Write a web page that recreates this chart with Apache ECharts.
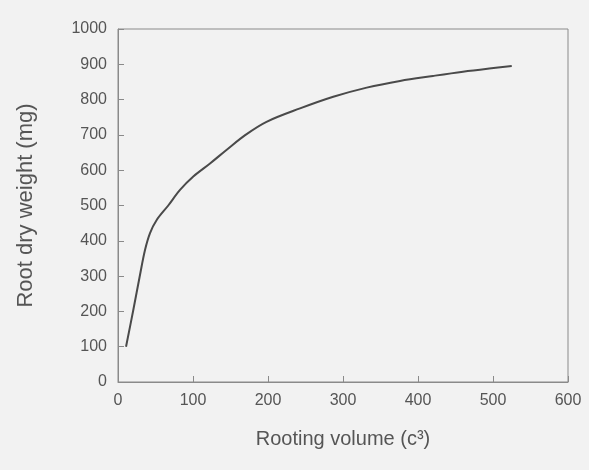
<!DOCTYPE html>
<html>
<head>
<meta charset="utf-8">
<script src="https://cdn.jsdelivr.net/npm/echarts@6/dist/echarts.min.js"></script>
<style>html,body{margin:0;padding:0;background:#f2f2f2;}#c{width:589px;height:470px;}</style>
</head>
<body>
<div id="c"></div>
<script>
var volume = [10.7, 20.4, 29.3, 36, 42.7, 51.6, 67, 82.7, 100.4, 122.7, 145, 170, 198, 242.7, 287, 331.6, 376, 420, 460, 495, 525];
var weight = [100, 204, 303, 374, 422, 459, 500, 544, 582, 619, 658, 700, 737, 775, 808, 834, 853, 867, 879, 888, 895];
var xTicks = [0, 100, 200, 300, 400, 500, 600];
var yTicks = [0, 100, 200, 300, 400, 500, 600, 700, 800, 900, 1000];
var xTitle = 'Rooting volume (c\u00B3)';
var yTitle = 'Root dry weight (mg)';

var chart = echarts.init(document.getElementById('c'));
var font = 'Liberation Sans, Arial, sans-serif';
chart.setOption({
  backgroundColor: '#f2f2f2',
  animation: false,
  grid: {left: 118, top: 29, right: 21, bottom: 88, show: true, borderColor: '#8a8a8a', borderWidth: 1, backgroundColor: 'transparent'},
  xAxis: {
    type: 'value', min: xTicks[0], max: xTicks[xTicks.length-1], interval: 100,
    name: xTitle, nameLocation: 'middle', nameGap: 47,
    nameTextStyle: {color: '#555', fontSize: 20, fontFamily: font},
    axisLine: {lineStyle: {color: '#8a8a8a'}},
    axisTick: {inside: true, length: 6, lineStyle: {color: '#8a8a8a'}},
    axisLabel: {color: '#555', fontSize: 16, fontFamily: font, margin: 11, formatter: function(v){ return String(v); }},
    splitLine: {show: false}
  },
  yAxis: {
    type: 'value', min: yTicks[0], max: yTicks[yTicks.length-1], interval: 100,
    name: yTitle, nameLocation: 'middle', nameGap: 81,
    nameTextStyle: {color: '#555', fontSize: 22, fontFamily: font},
    axisLine: {show: true, lineStyle: {color: '#8a8a8a'}},
    axisTick: {show: true, inside: true, length: 6, lineStyle: {color: '#8a8a8a'}},
    axisLabel: {color: '#555', fontSize: 16, fontFamily: font, margin: 11, formatter: function(v){ return String(v); }},
    splitLine: {show: false}
  },
  series: [{
    type: 'line',
    data: volume.map(function(v, i){ return [v, weight[i]]; }),
    smooth: 0.35,
    showSymbol: false,
    lineStyle: {color: '#4a4a4a', width: 2}
  }]
});
</script>
</body>
</html>
